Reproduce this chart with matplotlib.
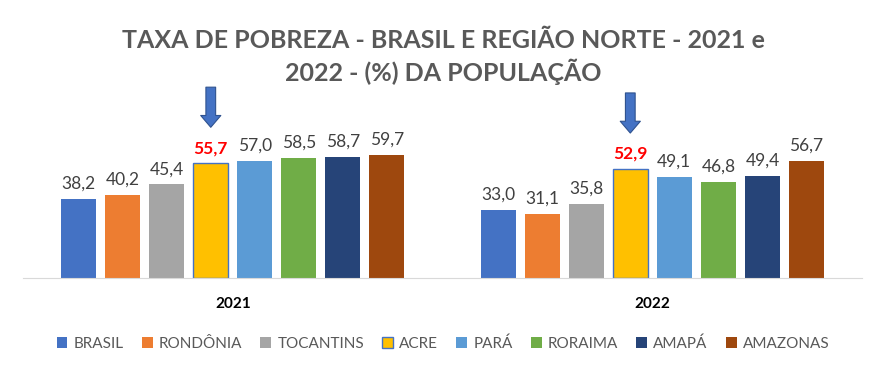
import matplotlib

matplotlib.use("Agg")

import matplotlib.pyplot as plt
import numpy as np

years = ["2021", "2022"]
regions = ["BRASIL", "RONDÔNIA", "TOCANTINS", "ACRE", "PARÁ", "RORAIMA", "AMAPÁ", "AMAZONAS"]
rate_2021 = [38.2, 40.2, 45.4, 55.7, 57.0, 58.5, 58.7, 59.7]
rate_2022 = [33.0, 31.1, 35.8, 52.9, 49.1, 46.8, 49.4, 56.7]
colors = ["#4472C4", "#ED7D31", "#A5A5A5", "#FFC000", "#5B9BD5", "#70AD47", "#264478", "#9E480E"]
highlight = "ACRE"

plt.rcParams["font.family"] = ["Lato", "DejaVu Sans"]

fig = plt.figure(figsize=(8.86, 3.75), dpi=100)
ax = fig.add_axes([0.026, 0.259, 0.947, 0.384])

values = np.array([rate_2021, rate_2022])
x = np.arange(len(years))
step = 0.105
width = 0.0835
offsets = (np.arange(len(regions)) - (len(regions) - 1) / 2) * step

for i, (name, color) in enumerate(zip(regions, colors)):
    is_hl = name == highlight
    bars = ax.bar(
        x + offsets[i], values[:, i], width, color=color, label=name,
        edgecolor="#4472C4" if is_hl else color, linewidth=1.0 if is_hl else 0,
    )
    for b, v in zip(bars, values[:, i]):
        xc = b.get_x() + b.get_width() / 2
        ax.text(
            xc, v + 3.5, f"{v:.1f}".replace(".", ","),
            ha="center", va="bottom", fontsize=12.5,
            color="#FF0000" if is_hl else "#404040",
            fontweight="bold" if is_hl else "normal",
        )
        if is_hl:
            # pointer arrow above the highlighted bar
            ax.annotate(
                "", xy=(xc, v + 17.5), xytext=(xc, v + 37.0),
                arrowprops=dict(
                    arrowstyle="simple,head_width=1.45,head_length=0.85,tail_width=0.7",
                    mutation_scale=10, facecolor="#4472C4", edgecolor="#2F528F",
                    linewidth=0.8, shrinkA=0, shrinkB=0,
                ),
                annotation_clip=False,
            )

ax.set_xlim(-0.5, 1.5)
ax.set_ylim(0, 70)
ax.set_yticks([])
ax.set_xticks(x)
ax.set_xticklabels(years, fontsize=11, fontweight="bold", color="#000000")
ax.tick_params(axis="x", length=0, pad=14)
for side in ["top", "left", "right"]:
    ax.spines[side].set_visible(False)
ax.spines["bottom"].set_color("#D9D9D9")

fig.text(0.5, 0.893, "TAXA DE POBREZA - BRASIL E REGIÃO NORTE - 2021 e",
         ha="center", va="center", fontsize=18, fontweight="bold", color="#595959")
fig.text(0.5, 0.808, "2022 - (%) DA POPULAÇÃO",
         ha="center", va="center", fontsize=18, fontweight="bold", color="#595959")

fig.legend(
    loc="center", bbox_to_anchor=(0.5, 0.083), ncol=len(regions), frameon=False,
    fontsize=11, labelcolor="#595959", handlelength=0.7, handleheight=0.7,
    handletextpad=0.4, columnspacing=1.2,
)

fig.savefig("out.png", dpi=100)
